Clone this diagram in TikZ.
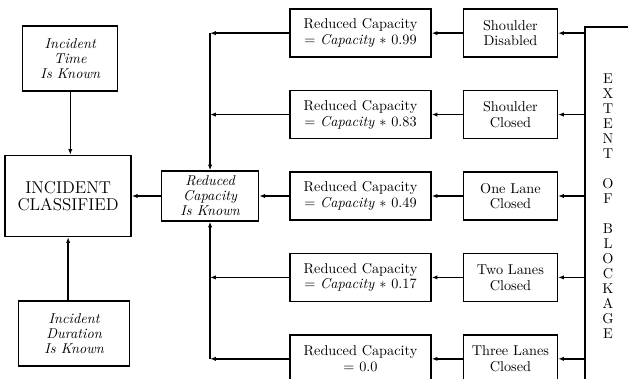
\documentclass[tikz,border=0pt]{standalone}
\usepackage{tikz}
\usetikzlibrary{positioning, arrows.meta}

\begin{document}
\begin{tikzpicture}[
    x=0.7pt, y=-0.7pt,
    node distance=22.4pt and 21.7pt,
    every node/.style={font=\fontsize{10}{11}\selectfont, align=center, inner sep=1pt},
    box/.style={draw, line width=1pt, minimum height=33.6pt},
    rcbox/.style={box, minimum width=98.7pt},
    lanebox/.style={box, minimum width=65.8pt},
    infobox/.style={box, font=\fontsize{10}{10.5}\selectfont\itshape},
    arr/.style={-{Latex[length=4pt, width=3pt]}, line width=1pt}
]
\clip (0,0) rectangle (628,379);
\node[rcbox] (rc3) at (360.5,196) {Reduced Capacity\\= \textit{Capacity} $*$ 0.49};
\node[rcbox, above=of rc3] (rc2) {Reduced Capacity\\= \textit{Capacity} $*$ 0.83};
\node[rcbox, above=of rc2] (rc1) {Reduced Capacity\\= \textit{Capacity} $*$ 0.99};
\node[rcbox, below=of rc3] (rc4) {Reduced Capacity\\= \textit{Capacity} $*$ 0.17};
\node[rcbox, below=of rc4] (rc5) {Reduced Capacity\\= 0.0};
\node[lanebox, right=of rc1] (lane1) {Shoulder\\Disabled};
\node[lanebox, right=of rc2] (lane2) {Shoulder\\Closed};
\node[lanebox, right=of rc3] (lane3) {One Lane\\Closed};
\node[lanebox, right=of rc4] (lane4) {Two Lanes\\Closed};
\node[lanebox, right=of rc5] (lane5) {Three Lanes\\Closed};
\node[box, minimum width=32.2pt, minimum height=250.6pt,
      font=\fontsize{10}{10.5}\selectfont] (ext) at (608,206)
      {E\\X\\T\\E\\N\\T\\[10.5pt]O\\F\\[10.5pt]B\\L\\O\\C\\K\\A\\G\\E};
\node[infobox, minimum width=67.9pt, minimum height=35pt, inner sep=0.5pt,
      left=21pt of rc3] (known) {Reduced\\Capacity\\Is Known};
\node[box, minimum width=88.2pt, minimum height=56.7pt,
      font=\fontsize{12}{12}\selectfont, left=20.3pt of known] (cls) {INCIDENT\\CLASSIFIED};
\node[infobox, minimum width=66.5pt, minimum height=45.5pt,
      above=44.1pt of cls, xshift=1.5pt] (time) {Incident\\Time\\Is Known};
\node[infobox, minimum width=77.7pt, minimum height=45.5pt,
      below=44.1pt of cls, xshift=4.2pt] (dur) {Incident\\Duration\\Is Known};
% extent of blockage feeds each lane box
\draw[arr] (lane1.east -| ext.west) -- (lane1.east);
\draw[arr] (lane2.east -| ext.west) -- (lane2.east);
\draw[arr] (lane3.east -| ext.west) -- (lane3.east);
\draw[arr] (lane4.east -| ext.west) -- (lane4.east);
\draw[arr] (lane5.east -| ext.west) -- (lane5.east);
\draw[arr] (lane1) -- (rc1);
\draw[arr] (lane2) -- (rc2);
\draw[arr] (lane3) -- (rc3);
\draw[arr] (lane4) -- (rc4);
\draw[arr] (lane5) -- (rc5);
% collecting bus into reduced capacity
\draw[arr] (rc1.west) -- (rc1.west -| known.north);
\draw[arr] (rc2.west) -- (rc2.west -| known.north);
\draw[arr] (rc4.west) -- (rc4.west -| known.south);
\draw[arr] (rc5.west) -- (rc5.west -| known.south);
\draw[arr] (rc1.west -| known.north) -- (known.north);
\draw[arr] (rc5.west -| known.south) -- (known.south);
\draw[arr] (rc3) -- (known);
\draw[arr] (known) -- (cls);
\draw[arr] (time.south) -- (time.south |- cls.north);
\draw[arr] (dur.north -| cls.south) -- (cls.south);
\end{tikzpicture}
\end{document}
